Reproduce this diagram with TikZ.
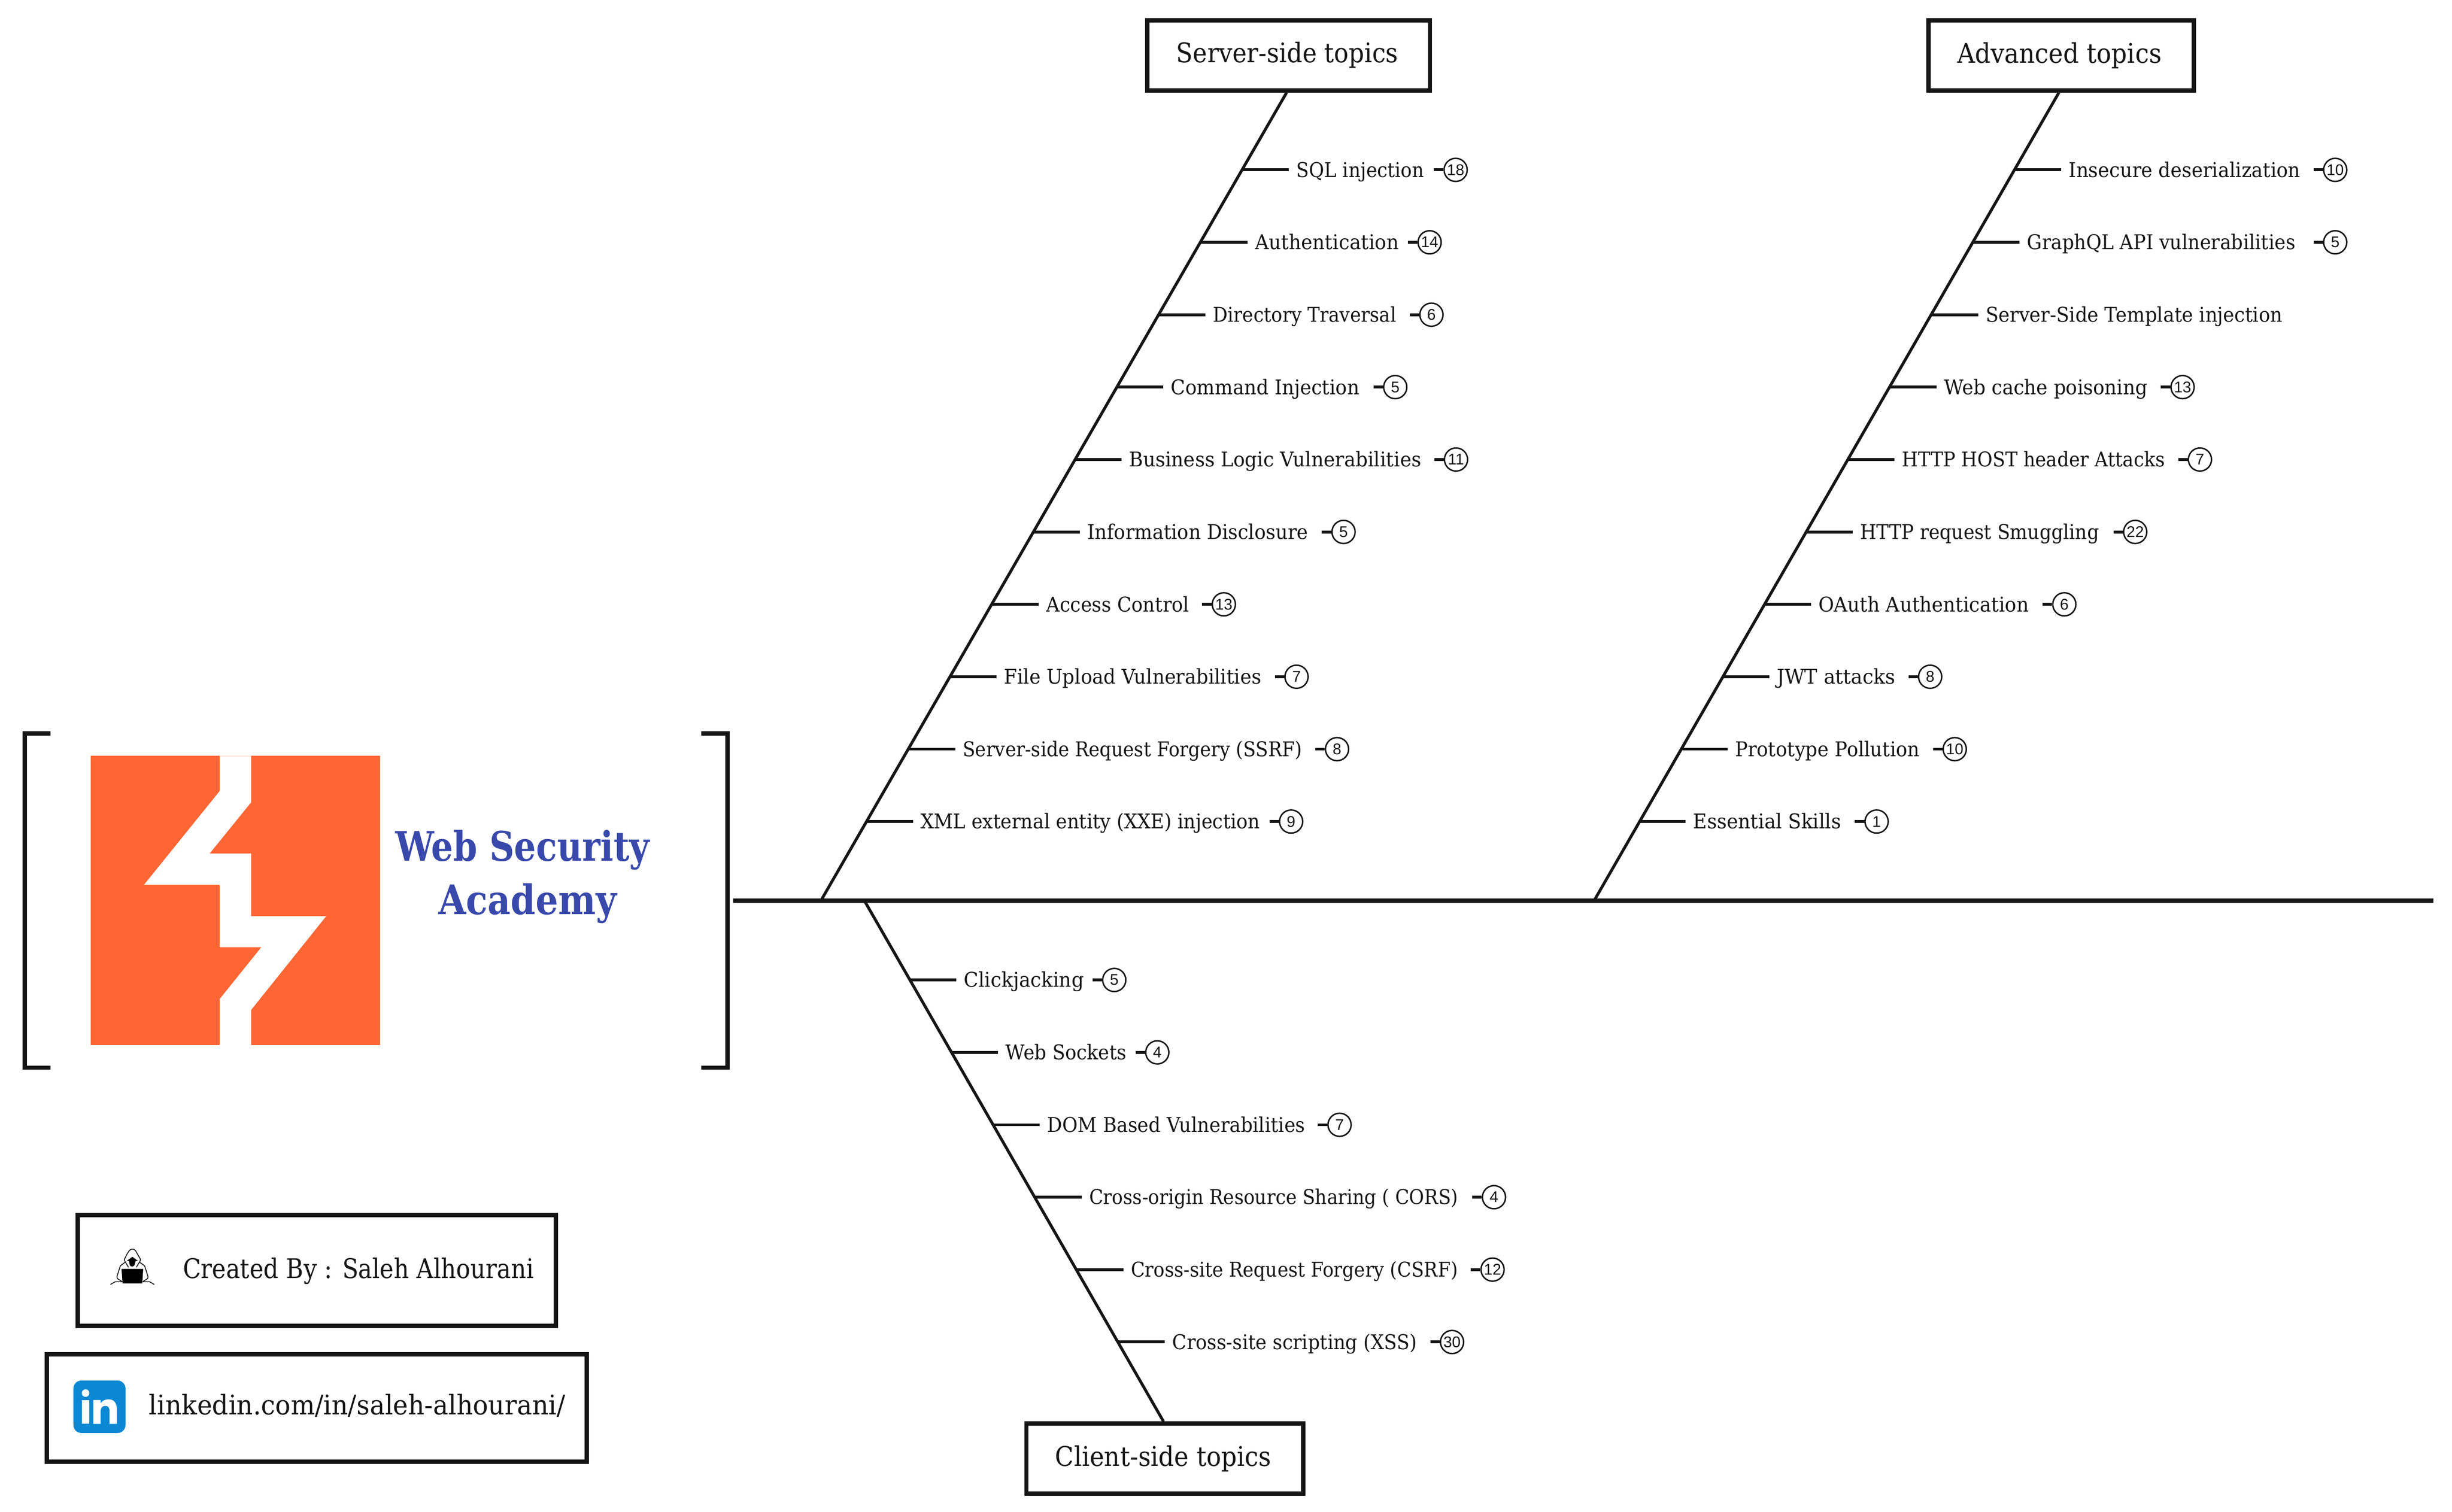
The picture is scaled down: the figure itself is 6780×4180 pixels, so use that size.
\documentclass[tikz,border=0pt]{standalone}
\usepackage{graphicx}
\usepackage{fontspec}
\setmainfont{DejaVu Serif}
\newfontfamily\numfont{Liberation Sans}
\usetikzlibrary{calc}
\newdimen\pxu \pxu=0.01cm
\definecolor{ink}{HTML}{151515}
\definecolor{burp}{HTML}{FF6633}
\definecolor{academy}{HTML}{3949AB}
\definecolor{linked}{HTML}{0A88D3}
\newcommand\fit[2]{\resizebox{#1\pxu}{\height}{#2}}
\tikzset{
  spine/.style={draw=ink,line width=12\pxu,line join=miter},
  bone/.style={draw=ink,line width=8\pxu},
  titlebox/.style={draw=ink,line width=12\pxu,fill=white,inner sep=0pt},
  rowtext/.style={anchor=base west,inner sep=0pt,outer sep=0pt,text=ink,font=\fontsize{16}{19}\selectfont},
  bigtext/.style={anchor=base west,inner sep=0pt,outer sep=0pt,text=ink,font=\fontsize{21.3}{25}\selectfont},
  logotext/.style={anchor=base west,inner sep=0pt,outer sep=0pt,text=academy,font=\fontsize{32}{38}\selectfont\bfseries},
  countcirc/.style={circle,draw=ink,line width=4\pxu,fill=white,inner sep=0pt,minimum size=64\pxu,text=ink,font=\numfont\fontsize{12.2}{14}\selectfont},
}
\newcommand\brow[5]{%
  \pgfmathsetmacro\frc{(#2-\curYa)/(\curYb-\curYa)}%
  \coordinate (#1-s) at ($(\curA)!\frc!(\curB)$);
  \node[rowtext] (#1-t) at (#3,#2+20) {\fit{#4}{#5}};
  \draw[bone,shorten >=21\pxu] (#1-s) -- (#1-t.base west |- #1-s);
}
\newcommand\bnum[4]{%
  \node[countcirc] (#1-c) at (#3,#2) {#4};
  \draw[bone] (#1-c.west) -- ++(-26,0);
}
\begin{document}
\begin{tikzpicture}[x=0.01cm,y=-0.01cm]
\useasboundingbox (0,0) rectangle (6780,4180);
\fill[white] (0,0) rectangle (6780,4180);

% logo + brackets
\draw[spine] (139,2028) -- (69,2028) -- (69,2952) -- (139,2952);
\draw[spine] (1939,2028) -- (2012,2028) -- (2012,2952) -- (1939,2952);
\fill[burp] (251,2090) rectangle (1051,2890);
\fill[white] (607.6,2090) -- (694.6,2090) -- (694.6,2218) -- (579.5,2360) -- (694.6,2360) -- (694.6,2533) -- (902,2533) -- (694.6,2792) -- (694.6,2890) -- (607.6,2890) -- (607.6,2762) -- (722.6,2619) -- (607.6,2619) -- (607.6,2446) -- (398.5,2446) -- (607.6,2187) -- cycle;
\node[logotext] (webtitle) at (1094,2380) {\fit{702}{Web Security}};
\node[logotext] (academytitle) at (1213,2528) {\fit{492}{Academy}};

% spine
\coordinate (spL) at (2027,2490);
\coordinate (spR) at (6728,2490);
\coordinate (jS) at (2270,2490);
\coordinate (jA) at (4408,2490);
\coordinate (jC) at (2390,2490);
\draw[spine] (spL) -- (spR);

% title boxes
\node[titlebox,minimum width=782\pxu,minimum height=194\pxu] (server) at (3563,153) {};
\node[bigtext] (servert) at (3253,173.5) {\fit{613}{Server-side topics}};
\node[titlebox,minimum width=734\pxu,minimum height=194\pxu] (advanced) at (5699.5,153) {};
\node[bigtext] (advancedt) at (5412,174) {\fit{565}{Advanced topics}};
\node[titlebox,minimum width=766\pxu,minimum height=194\pxu] (client) at (3221,4033) {};
\node[bigtext] (clientt) at (2918,4054) {\fit{597}{Client-side topics}};
\coordinate (tS) at ($(server.south)+(-5.5,0)$);
\coordinate (tA) at ($(advanced.south)+(-6.5,0)$);
\coordinate (tC) at ($(client.north)+(-4,0)$);
\draw[bone] (tS) -- (jS);
\draw[bone] (tA) -- (jA);
\draw[bone] (jC) -- (tC);

% server-side rows
\def\curA{tS}\def\curB{jS}\def\curYa{256}\def\curYb{2490}
\brow{s0}{469.7}{3585}{353}{SQL injection}\bnum{s0}{469.7}{4025}{18}
\brow{s1}{669.9}{3470}{398}{Authentication}\bnum{s1}{669.9}{3953}{14}
\brow{s2}{870.1}{3354}{507}{Directory Traversal}\bnum{s2}{870.1}{3958}{6}
\brow{s3}{1070.3}{3238}{521}{Command Injection}\bnum{s3}{1070.3}{3858}{5}
\brow{s4}{1270.5}{3122}{808}{Business Logic Vulnerabilities}\bnum{s4}{1270.5}{4026}{11}
\brow{s5}{1470.7}{3007}{610}{Information Disclosure}\bnum{s5}{1470.7}{3715}{5}
\brow{s6}{1670.9}{2893}{395}{Access Control}\bnum{s6}{1670.9}{3384}{13}
\brow{s7}{1871.1}{2776.5}{711}{File Upload Vulnerabilities}\bnum{s7}{1871.1}{3585}{7}
\brow{s8}{2071.3}{2662}{938}{Server-side Request Forgery (SSRF)}\bnum{s8}{2071.3}{3697}{8}
\brow{s9}{2271.5}{2546}{938}{XML external entity (XXE) injection}\bnum{s9}{2271.5}{3570}{9}

% advanced rows
\def\curA{tA}\def\curB{jA}
\brow{a0}{469.7}{5720.6}{640}{Insecure deserialization}\bnum{a0}{469.7}{6457}{10}
\brow{a1}{669.9}{5605}{742}{GraphQL API vulnerabilities}\bnum{a1}{669.9}{6457}{5}
\brow{a2}{870.1}{5491}{820}{Server-Side Template injection}
\brow{a3}{1070.3}{5376}{562}{Web cache poisoning}\bnum{a3}{1070.3}{6035}{13}
\brow{a4}{1270.5}{5259}{727}{HTTP HOST header Attacks}\bnum{a4}{1270.5}{6083}{7}
\brow{a5}{1470.7}{5144}{660}{HTTP request Smuggling}\bnum{a5}{1470.7}{5904}{22}
\brow{a6}{1670.9}{5028}{582}{OAuth Authentication}\bnum{a6}{1670.9}{5708}{6}
\brow{a7}{1871.1}{4913}{328}{JWT attacks}\bnum{a7}{1871.1}{5337}{8}
\brow{a8}{2071.3}{4798}{510}{Prototype Pollution}\bnum{a8}{2071.3}{5405}{10}
\brow{a9}{2271.5}{4682}{409}{Essential Skills}\bnum{a9}{2271.5}{5189}{1}

% client rows
\def\curA{jC}\def\curB{tC}\def\curYa{2490}\def\curYb{3930}
\brow{c0}{2709.5}{2665}{332}{Clickjacking}\bnum{c0}{2709.5}{3081}{5}
\brow{c1}{2909.7}{2781}{334}{Web Sockets}\bnum{c1}{2909.7}{3200}{4}
\brow{c2}{3109.9}{2896}{713}{DOM Based Vulnerabilities}\bnum{c2}{3109.9}{3704}{7}
\brow{c3}{3310.1}{3012}{1020}{Cross-origin Resource Sharing ( CORS)}\bnum{c3}{3310.1}{4131}{4}
\brow{c4}{3510.3}{3127}{904}{Cross-site Request Forgery (CSRF)}\bnum{c4}{3510.3}{4127}{12}
\brow{c5}{3710.5}{3242}{676}{Cross-site scripting (XSS)}\bnum{c5}{3710.5}{4015}{30}

% credit boxes
\draw[spine] (215,3360) rectangle (1537,3666);
\node[bigtext] (credit) at (506,3534) {\fit{970}{Created By : Saleh Alhourani}};
\draw[spine] (129.5,3744) rectangle (1622.6,4042);
\node[bigtext] (linkedin) at (412,3912) {\fit{1151}{linkedin.com/in/saleh-alhourani/}};

% hacker icon
\begin{scope}[shift={(290,3440)},x=0.01cm/3,y=-0.01cm/3,line width=2.4\pxu,line join=round,line cap=round]
\draw[ink] (195,190) -- (165,140) -- (162,125) -- (185,80) -- (205,50) -- (220,42) -- (240,42) -- (255,55) -- (295,125) -- (292,140) -- (262,190);
\draw[ink] (165,152) -- (128,180) -- (100,270) -- (103,285) -- (140,308);
\draw[ink] (292,152) -- (330,180) -- (358,270) -- (355,285) -- (318,308);
\draw[ink] (48,333) -- (85,312) -- (145,312);
\draw[ink] (315,312) -- (372,312) -- (408,333);
\fill[black] (138,205) -- (318,205) -- (310,325) -- (147,325) -- cycle;
\fill[black] (183,137) -- (228,105) -- (273,137) -- (255,140) -- (245,175) -- (232,185) -- (218,185) -- (207,175) -- (200,140) -- cycle;
\end{scope}

% linkedin badge
\fill[linked,rounded corners=22\pxu] (203,3817) rectangle (347,3962);
\fill[white] (236.7,3851.7) circle (10.5);
\fill[white] (226,3870.7) rectangle (246.7,3937);
\fill[white] (258,3937) -- (258,3870.7) -- (278,3870.7) -- (278,3880) .. controls (284,3872) and (292,3869) .. (300,3869) .. controls (316,3869) and (323,3880) .. (323,3897) -- (323,3937) -- (303,3937) -- (303,3902) .. controls (303,3892) and (299,3887) .. (291,3887) .. controls (283,3887) and (278,3893) .. (278,3902) -- (278,3937) -- cycle;
\end{tikzpicture}
\end{document}
